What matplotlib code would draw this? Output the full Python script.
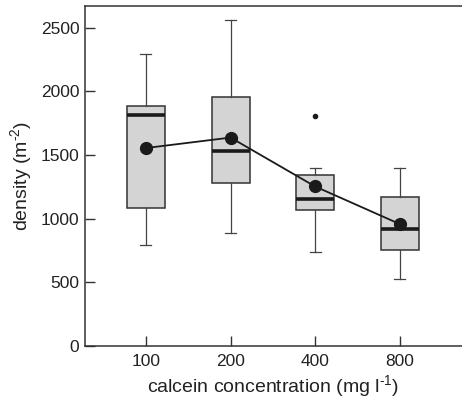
import matplotlib
matplotlib.use("Agg")
import matplotlib.pyplot as plt

plt.rcParams['font.family'] = ['Liberation Sans', 'DejaVu Sans']
plt.rcParams['mathtext.default'] = 'regular'

# box statistics
concentrations = ["100", "200", "400", "800"]
whisker_low = [795, 885, 740, 525]
q1 = [1085, 1280, 1065, 755]
medians = [1818, 1533, 1155, 918]
q3 = [1888, 1952, 1346, 1168]
whisker_high = [2290, 2558, 1402, 1402]
means = [1555, 1637, 1253, 958]
outliers = [[], [], [1805], []]

stats = []
for i in range(len(concentrations)):
  stats.append(dict(whislo=whisker_low[i], q1=q1[i], med=medians[i], q3=q3[i],
                    whishi=whisker_high[i], fliers=outliers[i], label=concentrations[i]))

fig = plt.figure(figsize=(4.62, 4.01), dpi=100)
ax = fig.add_axes([0.184, 0.137, 0.815, 0.848])

pos = list(range(1, len(concentrations) + 1))
ax.bxp(stats, positions=pos, widths=0.45, capwidths=0.13, patch_artist=True,
       boxprops=dict(facecolor="#d4d4d4", edgecolor="#333333", linewidth=1.1),
       medianprops=dict(color="#1a1a1a", linewidth=2.6),
       whiskerprops=dict(color="#444444", linewidth=0.9),
       capprops=dict(color="#444444", linewidth=0.9),
       flierprops=dict(marker="o", markersize=3, markerfacecolor="#1a1a1a",
                       markeredgecolor="#1a1a1a"))

ax.plot(pos, means, color="#1a1a1a", linewidth=1.3, marker="o", markersize=8.5,
        zorder=5)

ax.set_xlim(0.28, 4.73)
ax.set_ylim(0, 2670)
ax.set_yticks([0, 500, 1000, 1500, 2000, 2500])
ax.set_xticks(pos)
ax.set_xticklabels(concentrations)
ax.tick_params(direction="in", length=7, width=1, color="#333333",
               labelsize=12.5, labelcolor="#222222")
ax.tick_params(axis="y", pad=4)
ax.tick_params(axis="x", pad=6)
ax.spines["right"].set_visible(False)
for s in ["left", "top", "bottom"]:
  ax.spines[s].set_color("#333333")
  ax.spines[s].set_linewidth(1.1)

ax.set_ylabel("density (m$^{\u20102}$)", fontsize=14, color="#222222", labelpad=5)
ax.set_xlabel("calcein concentration (mg l$^{\u20101}$)", fontsize=14,
              color="#222222", labelpad=3)

fig.savefig("out.png", dpi=100)
